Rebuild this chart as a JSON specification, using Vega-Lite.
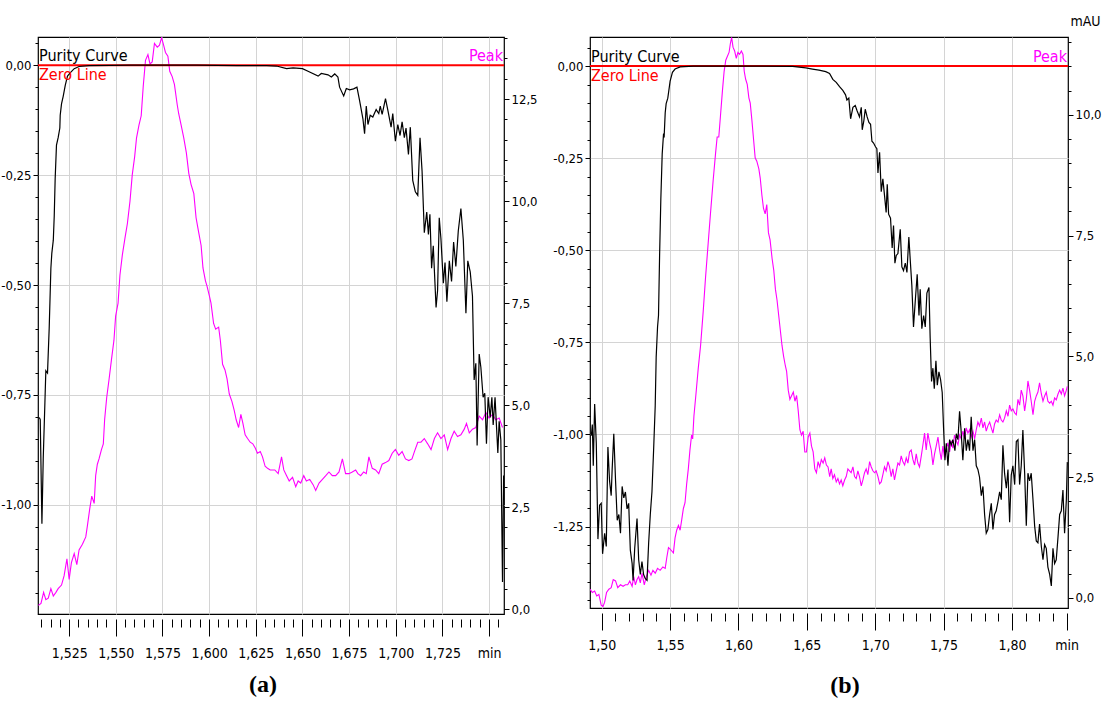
{
  "$schema": "https://vega.github.io/schema/vega-lite/v6.json",
  "background": "white",
  "padding": {"left": 0, "top": 13, "right": 5, "bottom": 5},
  "bounds": "flush",
  "spacing": 86,
  "config": {
    "view": {"stroke": "black", "strokeWidth": 1.2},
    "axis": {"labelFont": "Liberation Sans Narrow, DejaVu Sans Condensed, sans-serif", "labelFontSize": 13, "labelColor": "black", "tickColor": "black", "tickWidth": 1, "tickCount": 500, "domain": false, "gridColor": "#d4d4d4", "gridWidth": 1, "labelOverlap": false, "labelFlush": false, "titleFont": "Liberation Sans Narrow, DejaVu Sans Condensed, sans-serif", "titleFontWeight": "normal", "titleColor": "black"},
    "text": {"font": "Liberation Sans Narrow, DejaVu Sans Condensed, sans-serif"}
  },
  "datasets": {
    "a_pur": [
      {"t":1.5090,"v":-0.801},{"t":1.5095,"v":-0.806},{"t":1.5104,"v":-1.043},{"t":1.5111,"v":-0.895},{"t":1.5120,"v":-0.767},{"t":1.5125,"v":-0.695},{"t":1.5134,"v":-0.700},{"t":1.5143,"v":-0.598},{"t":1.5152,"v":-0.462},{"t":1.5157,"v":-0.428},{"t":1.5165,"v":-0.398},{"t":1.5170,"v":-0.343},{"t":1.5175,"v":-0.258},{"t":1.5182,"v":-0.182},{"t":1.5191,"v":-0.165},{"t":1.5200,"v":-0.143},{"t":1.5202,"v":-0.114},{"t":1.5209,"v":-0.088},{"t":1.5218,"v":-0.071},{"t":1.5229,"v":-0.046},{"t":1.5241,"v":-0.025},{"t":1.5259,"v":-0.016},{"t":1.5277,"v":-0.008},{"t":1.5303,"v":-0.003},{"t":1.5357,"v":-0.001},{"t":1.5579,"v":0},{"t":1.5935,"v":0},{"t":1.6150,"v":-0.001},{"t":1.6308,"v":-0.001},{"t":1.6361,"v":-0.002},{"t":1.6415,"v":-0.008},{"t":1.6450,"v":-0.006},{"t":1.6500,"v":-0.008},{"t":1.6530,"v":-0.014},{"t":1.6584,"v":-0.025},{"t":1.6601,"v":-0.019},{"t":1.6637,"v":-0.022},{"t":1.6655,"v":-0.027},{"t":1.6673,"v":-0.020},{"t":1.6690,"v":-0.027},{"t":1.6699,"v":-0.050},{"t":1.6721,"v":-0.070},{"t":1.6735,"v":-0.053},{"t":1.6753,"v":-0.056},{"t":1.6774,"v":-0.054},{"t":1.6792,"v":-0.050},{"t":1.6806,"v":-0.080},{"t":1.6824,"v":-0.122},{"t":1.6833,"v":-0.156},{"t":1.6842,"v":-0.093},{"t":1.6851,"v":-0.135},{"t":1.6863,"v":-0.114},{"t":1.6877,"v":-0.118},{"t":1.6895,"v":-0.101},{"t":1.6909,"v":-0.110},{"t":1.6917,"v":-0.093},{"t":1.6927,"v":-0.112},{"t":1.6945,"v":-0.076},{"t":1.6957,"v":-0.101},{"t":1.6975,"v":-0.141},{"t":1.6984,"v":-0.110},{"t":1.6998,"v":-0.173},{"t":1.7011,"v":-0.135},{"t":1.7023,"v":-0.160},{"t":1.7034,"v":-0.129},{"t":1.7046,"v":-0.165},{"t":1.7055,"v":-0.143},{"t":1.7068,"v":-0.203},{"t":1.7078,"v":-0.141},{"t":1.7091,"v":-0.262},{"t":1.7105,"v":-0.288},{"t":1.7118,"v":-0.296},{"t":1.7130,"v":-0.165},{"t":1.7141,"v":-0.241},{"t":1.7153,"v":-0.381},{"t":1.7166,"v":-0.334},{"t":1.7175,"v":-0.385},{"t":1.7183,"v":-0.339},{"t":1.7192,"v":-0.462},{"t":1.7201,"v":-0.411},{"t":1.7216,"v":-0.551},{"t":1.7224,"v":-0.513},{"t":1.7233,"v":-0.347},{"t":1.7242,"v":-0.394},{"t":1.7255,"v":-0.496},{"t":1.7264,"v":-0.449},{"t":1.7274,"v":-0.538},{"t":1.7287,"v":-0.445},{"t":1.7299,"v":-0.492},{"t":1.7310,"v":-0.402},{"t":1.7322,"v":-0.458},{"t":1.7335,"v":-0.377},{"t":1.7349,"v":-0.326},{"t":1.7362,"v":-0.398},{"t":1.7376,"v":-0.564},{"t":1.7386,"v":-0.445},{"t":1.7399,"v":-0.470},{"t":1.7411,"v":-0.525},{"t":1.7420,"v":-0.716},{"t":1.7429,"v":-0.678},{"t":1.7436,"v":-0.865},{"t":1.7447,"v":-0.657},{"t":1.7456,"v":-0.687},{"t":1.7468,"v":-0.755},{"t":1.7477,"v":-0.746},{"t":1.7486,"v":-0.861},{"t":1.7495,"v":-0.755},{"t":1.7506,"v":-0.801},{"t":1.7515,"v":-0.755},{"t":1.7522,"v":-0.818},{"t":1.7532,"v":-0.755},{"t":1.7540,"v":-0.823},{"t":1.7547,"v":-0.882},{"t":1.7554,"v":-0.810},{"t":1.7563,"v":-0.852},{"t":1.7572,"v":-1.175},{"t":1.7578,"v":-0.933}
    ],
    "a_peak": [
      {"t":1.5085,"v":0.09},{"t":1.5099,"v":0.14},{"t":1.5113,"v":0.41},{"t":1.5125,"v":0.23},{"t":1.5138,"v":0.27},{"t":1.5152,"v":0.50},{"t":1.5165,"v":0.32},{"t":1.5179,"v":0.41},{"t":1.5191,"v":0.50},{"t":1.5209,"v":0.59},{"t":1.5223,"v":0.82},{"t":1.5238,"v":1.23},{"t":1.5250,"v":0.73},{"t":1.5262,"v":1.14},{"t":1.5277,"v":1.36},{"t":1.5291,"v":1.09},{"t":1.5303,"v":1.45},{"t":1.5321,"v":1.59},{"t":1.5339,"v":1.77},{"t":1.5348,"v":2.05},{"t":1.5360,"v":2.45},{"t":1.5371,"v":2.77},{"t":1.5384,"v":2.59},{"t":1.5392,"v":3.27},{"t":1.5401,"v":3.55},{"t":1.5410,"v":3.68},{"t":1.5423,"v":3.91},{"t":1.5433,"v":4.05},{"t":1.5440,"v":4.64},{"t":1.5451,"v":5.18},{"t":1.5464,"v":5.64},{"t":1.5476,"v":6.09},{"t":1.5490,"v":6.59},{"t":1.5499,"v":7.18},{"t":1.5512,"v":7.50},{"t":1.5522,"v":8.18},{"t":1.5535,"v":8.68},{"t":1.5549,"v":9.09},{"t":1.5562,"v":9.45},{"t":1.5576,"v":10.00},{"t":1.5588,"v":10.64},{"t":1.5601,"v":11.09},{"t":1.5611,"v":11.55},{"t":1.5624,"v":11.86},{"t":1.5636,"v":12.09},{"t":1.5647,"v":12.82},{"t":1.5659,"v":13.45},{"t":1.5672,"v":13.59},{"t":1.5683,"v":13.36},{"t":1.5695,"v":13.41},{"t":1.5707,"v":13.86},{"t":1.5722,"v":13.77},{"t":1.5734,"v":13.82},{"t":1.5745,"v":14.00},{"t":1.5754,"v":13.86},{"t":1.5766,"v":13.64},{"t":1.5779,"v":13.55},{"t":1.5789,"v":13.18},{"t":1.5802,"v":13.05},{"t":1.5814,"v":12.86},{"t":1.5829,"v":12.36},{"t":1.5837,"v":12.14},{"t":1.5850,"v":11.86},{"t":1.5864,"v":11.55},{"t":1.5878,"v":11.18},{"t":1.5891,"v":10.68},{"t":1.5903,"v":10.41},{"t":1.5918,"v":10.18},{"t":1.5930,"v":9.59},{"t":1.5944,"v":9.23},{"t":1.5957,"v":8.91},{"t":1.5967,"v":8.36},{"t":1.5980,"v":8.05},{"t":1.5989,"v":7.91},{"t":1.6001,"v":7.68},{"t":1.6010,"v":7.50},{"t":1.6024,"v":7.00},{"t":1.6035,"v":6.86},{"t":1.6051,"v":6.91},{"t":1.6060,"v":6.59},{"t":1.6072,"v":6.00},{"t":1.6085,"v":5.86},{"t":1.6096,"v":5.64},{"t":1.6108,"v":5.27},{"t":1.6122,"v":5.09},{"t":1.6135,"v":4.86},{"t":1.6145,"v":4.64},{"t":1.6158,"v":4.45},{"t":1.6170,"v":4.77},{"t":1.6181,"v":4.55},{"t":1.6193,"v":4.27},{"t":1.6206,"v":4.18},{"t":1.6220,"v":4.09},{"t":1.6234,"v":4.05},{"t":1.6247,"v":3.95},{"t":1.6259,"v":3.82},{"t":1.6274,"v":3.86},{"t":1.6286,"v":3.73},{"t":1.6300,"v":3.50},{"t":1.6313,"v":3.45},{"t":1.6327,"v":3.41},
      {"t":1.6352,"v":3.41},{"t":1.6370,"v":3.32},{"t":1.6388,"v":3.73},{"t":1.6400,"v":3.41},{"t":1.6415,"v":3.27},{"t":1.6429,"v":3.14},{"t":1.6447,"v":3.23},{"t":1.6464,"v":3.00},{"t":1.6477,"v":3.14},{"t":1.6491,"v":3.09},{"t":1.6507,"v":3.27},{"t":1.6521,"v":3.14},{"t":1.6539,"v":3.18},{"t":1.6557,"v":3.05},{"t":1.6571,"v":2.91},{"t":1.6589,"v":3.09},{"t":1.6607,"v":3.18},{"t":1.6625,"v":3.27},{"t":1.6642,"v":3.36},{"t":1.6660,"v":3.27},{"t":1.6678,"v":3.27},{"t":1.6696,"v":3.36},{"t":1.6714,"v":3.68},{"t":1.6731,"v":3.32},{"t":1.6749,"v":3.32},{"t":1.6767,"v":3.36},{"t":1.6785,"v":3.41},{"t":1.6797,"v":3.32},{"t":1.6812,"v":3.27},{"t":1.6828,"v":3.36},{"t":1.6842,"v":3.32},{"t":1.6856,"v":3.73},{"t":1.6874,"v":3.45},{"t":1.6892,"v":3.41},{"t":1.6909,"v":3.32},{"t":1.6927,"v":3.55},{"t":1.6945,"v":3.59},{"t":1.6963,"v":3.64},{"t":1.6981,"v":3.82},{"t":1.6998,"v":3.91},{"t":1.7016,"v":3.77},{"t":1.7034,"v":3.86},{"t":1.7052,"v":3.68},{"t":1.7070,"v":3.64},{"t":1.7087,"v":3.68},{"t":1.7100,"v":3.86},{"t":1.7118,"v":4.09},{"t":1.7135,"v":4.09},{"t":1.7153,"v":4.18},{"t":1.7171,"v":4.05},{"t":1.7189,"v":3.91},{"t":1.7207,"v":4.18},{"t":1.7224,"v":4.32},{"t":1.7242,"v":4.18},{"t":1.7260,"v":4.27},{"t":1.7278,"v":3.91},{"t":1.7296,"v":4.18},{"t":1.7313,"v":4.36},{"t":1.7331,"v":4.23},{"t":1.7349,"v":4.27},{"t":1.7367,"v":4.41},{"t":1.7379,"v":4.55},{"t":1.7394,"v":4.32},{"t":1.7411,"v":4.41},{"t":1.7429,"v":4.45},{"t":1.7447,"v":4.73},{"t":1.7465,"v":4.64},{"t":1.7483,"v":4.82},{"t":1.7500,"v":4.68},{"t":1.7518,"v":4.77},{"t":1.7536,"v":4.64},{"t":1.7554,"v":4.68},{"t":1.7572,"v":4.45}
    ],
    "b_pur": [
      {"t":1.4924,"v":-1.003},{"t":1.4931,"v":-0.973},{"t":1.4938,"v":-1.085},{"t":1.4948,"v":-0.917},{"t":1.4960,"v":-1.024},{"t":1.4972,"v":-1.284},{"t":1.4984,"v":-1.192},{"t":1.4996,"v":-1.187},{"t":1.5006,"v":-1.324},{"t":1.5021,"v":-1.268},{"t":1.5033,"v":-1.304},{"t":1.5045,"v":-1.034},{"t":1.5057,"v":-1.126},{"t":1.5069,"v":-1.166},{"t":1.5076,"v":-1.095},{"t":1.5088,"v":-0.998},{"t":1.5101,"v":-1.126},{"t":1.5113,"v":-1.233},{"t":1.5125,"v":-1.217},{"t":1.5137,"v":-1.268},{"t":1.5149,"v":-1.141},{"t":1.5161,"v":-1.172},{"t":1.5173,"v":-1.156},{"t":1.5185,"v":-1.202},{"t":1.5197,"v":-1.187},{"t":1.5209,"v":-1.314},{"t":1.5222,"v":-1.350},{"t":1.5229,"v":-1.396},{"t":1.5241,"v":-1.309},{"t":1.5258,"v":-1.228},{"t":1.5270,"v":-1.340},{"t":1.5282,"v":-1.380},{"t":1.5294,"v":-1.345},{"t":1.5306,"v":-1.380},{"t":1.5318,"v":-1.391},{"t":1.5331,"v":-1.396},{"t":1.5343,"v":-1.294},{"t":1.5355,"v":-1.217},{"t":1.5367,"v":-1.156},{"t":1.5379,"v":-1.044},{"t":1.5391,"v":-0.922},{"t":1.5398,"v":-0.790},{"t":1.5408,"v":-0.708},{"t":1.5415,"v":-0.677},{"t":1.5423,"v":-0.514},{"t":1.5432,"v":-0.362},{"t":1.5442,"v":-0.239},{"t":1.5452,"v":-0.183},{"t":1.5456,"v":-0.194},{"t":1.5464,"v":-0.127},{"t":1.5471,"v":-0.102},{"t":1.5483,"v":-0.087},{"t":1.5500,"v":-0.041},{"t":1.5517,"v":-0.017},{"t":1.5536,"v":-0.008},{"t":1.5573,"v":-0.002},{"t":1.5669,"v":0},{"t":1.6105,"v":0},{"t":1.6396,"v":-0.001},{"t":1.6444,"v":-0.003},{"t":1.6493,"v":-0.005},{"t":1.6541,"v":-0.008},{"t":1.6589,"v":-0.011},{"t":1.6638,"v":-0.015},
      {"t":1.6666,"v":-0.020},{"t":1.6690,"v":-0.036},{"t":1.6715,"v":-0.044},{"t":1.6739,"v":-0.056},{"t":1.6763,"v":-0.066},{"t":1.6783,"v":-0.078},{"t":1.6793,"v":-0.092},{"t":1.6807,"v":-0.087},{"t":1.6820,"v":-0.143},{"t":1.6837,"v":-0.112},{"t":1.6854,"v":-0.107},{"t":1.6868,"v":-0.122},{"t":1.6885,"v":-0.138},{"t":1.6898,"v":-0.112},{"t":1.6905,"v":-0.173},{"t":1.6917,"v":-0.148},{"t":1.6927,"v":-0.117},{"t":1.6941,"v":-0.138},{"t":1.6954,"v":-0.153},{"t":1.6966,"v":-0.158},{"t":1.6976,"v":-0.204},{"t":1.6988,"v":-0.209},{"t":1.7002,"v":-0.219},{"t":1.7012,"v":-0.224},{"t":1.7020,"v":-0.290},{"t":1.7032,"v":-0.234},{"t":1.7044,"v":-0.341},{"t":1.7056,"v":-0.306},{"t":1.7068,"v":-0.351},{"t":1.7080,"v":-0.397},{"t":1.7088,"v":-0.321},{"t":1.7098,"v":-0.402},{"t":1.7112,"v":-0.413},{"t":1.7124,"v":-0.494},{"t":1.7134,"v":-0.433},{"t":1.7144,"v":-0.535},{"t":1.7154,"v":-0.514},{"t":1.7166,"v":-0.509},{"t":1.7183,"v":-0.443},{"t":1.7195,"v":-0.545},{"t":1.7207,"v":-0.555},{"t":1.7220,"v":-0.535},{"t":1.7232,"v":-0.560},{"t":1.7246,"v":-0.464},{"t":1.7256,"v":-0.525},{"t":1.7268,"v":-0.596},{"t":1.7280,"v":-0.708},{"t":1.7295,"v":-0.627},{"t":1.7307,"v":-0.565},{"t":1.7320,"v":-0.677},{"t":1.7329,"v":-0.606},{"t":1.7341,"v":-0.713},{"t":1.7354,"v":-0.677},{"t":1.7366,"v":-0.708},{"t":1.7378,"v":-0.616},{"t":1.7393,"v":-0.601},{"t":1.7402,"v":-0.739},{"t":1.7412,"v":-0.856},{"t":1.7422,"v":-0.820},{"t":1.7432,"v":-0.876},{"t":1.7444,"v":-0.800},{"t":1.7454,"v":-0.866},{"t":1.7466,"v":-0.830},{"t":1.7478,"v":-0.851},{"t":1.7490,"v":-0.886},{"t":1.7500,"v":-0.983},{"t":1.7510,"v":-1.070},{"t":1.7520,"v":-1.024},{"t":1.7532,"v":-1.085},{"t":1.7544,"v":-1.014},{"t":1.7556,"v":-1.029},{"t":1.7568,"v":-1.014},{"t":1.7583,"v":-1.044},{"t":1.7593,"v":-0.998},{"t":1.7605,"v":-1.014},{"t":1.7617,"v":-0.937},{"t":1.7627,"v":-0.983},{"t":1.7641,"v":-1.070},{"t":1.7654,"v":-0.983},{"t":1.7666,"v":-1.044},{"t":1.7678,"v":-1.014},{"t":1.7690,"v":-1.044},{"t":1.7702,"v":-0.952},{"t":1.7715,"v":-1.044},{"t":1.7727,"v":-1.014},{"t":1.7739,"v":-1.085},{"t":1.7751,"v":-1.095},{"t":1.7763,"v":-1.116},{"t":1.7776,"v":-1.166},{"t":1.7788,"v":-1.141},{"t":1.7800,"v":-1.217},{"t":1.7812,"v":-1.268},{"t":1.7824,"v":-1.258},{"t":1.7837,"v":-1.217},{"t":1.7849,"v":-1.187},{"t":1.7861,"v":-1.258},{"t":1.7873,"v":-1.217},{"t":1.7885,"v":-1.207},{"t":1.7898,"v":-1.182},{"t":1.7910,"v":-1.156},{"t":1.7922,"v":-1.177},{"t":1.7934,"v":-1.029},{"t":1.7946,"v":-1.105},{"t":1.7959,"v":-1.146},{"t":1.7971,"v":-1.095},{"t":1.7983,"v":-1.238},{"t":1.7995,"v":-1.110},{"t":1.8007,"v":-1.085},{"t":1.8020,"v":-1.136},{"t":1.8032,"v":-1.019},{"t":1.8044,"v":-1.014},{"t":1.8056,"v":-1.136},{"t":1.8068,"v":-1.085},{"t":1.8080,"v":-0.988},{"t":1.8093,"v":-1.105},{"t":1.8105,"v":-1.248},{"t":1.8117,"v":-1.105},{"t":1.8129,"v":-1.126},{"t":1.8141,"v":-1.105},{"t":1.8154,"v":-1.177},{"t":1.8166,"v":-1.248},{"t":1.8178,"v":-1.289},{"t":1.8190,"v":-1.294},{"t":1.8202,"v":-1.243},{"t":1.8215,"v":-1.304},{"t":1.8227,"v":-1.340},{"t":1.8239,"v":-1.299},{"t":1.8251,"v":-1.309},{"t":1.8263,"v":-1.360},{"t":1.8276,"v":-1.380},{"t":1.8288,"v":-1.411},{"t":1.8300,"v":-1.309},{"t":1.8312,"v":-1.350},{"t":1.8324,"v":-1.340},{"t":1.8337,"v":-1.278},{"t":1.8349,"v":-1.217},{"t":1.8361,"v":-1.207},{"t":1.8373,"v":-1.151},{"t":1.8385,"v":-1.268},{"t":1.8398,"v":-1.177},{"t":1.8405,"v":-1.075}
    ],
    "b_peak": [
      {"t":1.4914,"v":0.18},{"t":1.4931,"v":0.11},{"t":1.4948,"v":0.14},{"t":1.4963,"v":0.04},{"t":1.4979,"v":0.07},{"t":1.4996,"v":-0.15},{"t":1.5009,"v":-0.18},{"t":1.5021,"v":-0.09},{"t":1.5035,"v":0.11},{"t":1.5052,"v":0.18},{"t":1.5069,"v":0.21},{"t":1.5084,"v":0.38},{"t":1.5101,"v":0.35},{"t":1.5117,"v":0.21},{"t":1.5137,"v":0.27},{"t":1.5156,"v":0.24},{"t":1.5173,"v":0.27},{"t":1.5190,"v":0.27},{"t":1.5205,"v":0.35},{"t":1.5222,"v":0.24},{"t":1.5234,"v":0.44},{"t":1.5246,"v":0.27},{"t":1.5258,"v":0.38},{"t":1.5270,"v":0.44},{"t":1.5282,"v":0.31},{"t":1.5294,"v":0.51},{"t":1.5311,"v":0.27},{"t":1.5326,"v":0.44},{"t":1.5343,"v":0.57},{"t":1.5360,"v":0.47},{"t":1.5374,"v":0.57},{"t":1.5391,"v":0.51},{"t":1.5408,"v":0.61},{"t":1.5427,"v":0.57},{"t":1.5447,"v":0.64},{"t":1.5464,"v":0.61},{"t":1.5476,"v":0.84},{"t":1.5488,"v":1.04},{"t":1.5500,"v":1.01},{"t":1.5512,"v":0.97},{"t":1.5524,"v":0.93},{"t":1.5536,"v":1.24},{"t":1.5548,"v":1.40},{"t":1.5561,"v":1.50},{"t":1.5573,"v":1.40},{"t":1.5585,"v":1.62},{"t":1.5597,"v":1.85},{"t":1.5609,"v":1.97},{"t":1.5621,"v":2.36},{"t":1.5633,"v":2.67},{"t":1.5645,"v":3.06},{"t":1.5657,"v":3.37},{"t":1.5665,"v":3.29},{"t":1.5674,"v":3.76},{"t":1.5689,"v":4.22},{"t":1.5706,"v":4.76},{"t":1.5723,"v":5.23},{"t":1.5742,"v":5.93},{"t":1.5759,"v":6.63},{"t":1.5778,"v":7.33},{"t":1.5795,"v":7.95},{"t":1.5815,"v":8.65},{"t":1.5832,"v":9.19},{"t":1.5844,"v":9.54},{"t":1.5856,"v":9.54},{"t":1.5868,"v":9.97},{"t":1.5883,"v":10.51},{"t":1.5895,"v":10.90},{"t":1.5907,"v":11.13},{"t":1.5919,"v":11.21},{"t":1.5931,"v":11.29},{"t":1.5941,"v":11.48},{"t":1.5950,"v":11.60},{"t":1.5960,"v":11.40},{"t":1.5972,"v":11.32},{"t":1.5984,"v":11.17},{"t":1.5996,"v":11.29},{"t":1.6008,"v":11.25},{"t":1.6021,"v":11.32},{"t":1.6033,"v":11.25},{"t":1.6042,"v":10.90},{"t":1.6052,"v":10.74},{"t":1.6064,"v":10.63},{"t":1.6076,"v":10.35},{"t":1.6086,"v":10.24},{"t":1.6098,"v":9.89},{"t":1.6110,"v":9.50},{"t":1.6122,"v":9.11},{"t":1.6134,"v":9.04},{"t":1.6149,"v":8.88},{"t":1.6159,"v":8.69},{"t":1.6171,"v":8.34},{"t":1.6183,"v":8.06},{"t":1.6195,"v":7.95},{"t":1.6207,"v":8.14},{"t":1.6219,"v":7.56},{"t":1.6231,"v":7.41},{"t":1.6246,"v":7.02},{"t":1.6258,"v":6.78},{"t":1.6270,"v":6.39},{"t":1.6282,"v":6.16},{"t":1.6294,"v":5.85},{"t":1.6306,"v":5.54},{"t":1.6318,"v":5.23},{"t":1.6330,"v":5.00},{"t":1.6343,"v":4.80},{"t":1.6352,"v":4.69},{"t":1.6364,"v":4.30},{"t":1.6376,"v":4.11},{"t":1.6389,"v":4.19},{"t":1.6401,"v":4.26},{"t":1.6413,"v":4.07},{"t":1.6425,"v":4.19},{"t":1.6437,"v":3.87},{"t":1.6449,"v":3.48},{"t":1.6461,"v":3.37},{"t":1.6473,"v":3.45},{"t":1.6485,"v":3.02},{"t":1.6497,"v":3.02},{"t":1.6510,"v":3.33},{"t":1.6522,"v":3.41},{"t":1.6534,"v":3.14},{"t":1.6546,"v":3.02},{"t":1.6558,"v":2.67},{"t":1.6570,"v":2.59},{"t":1.6582,"v":2.82},{"t":1.6594,"v":2.71},{"t":1.6606,"v":2.86},{"t":1.6619,"v":2.79},{"t":1.6631,"v":2.90},{"t":1.6643,"v":2.75},{"t":1.6655,"v":2.71},{"t":1.6667,"v":2.51},
      {"t":1.6678,"v":2.67},{"t":1.6690,"v":2.47},{"t":1.6702,"v":2.55},{"t":1.6715,"v":2.40},{"t":1.6727,"v":2.47},{"t":1.6739,"v":2.36},{"t":1.6751,"v":2.44},{"t":1.6763,"v":2.32},{"t":1.6776,"v":2.44},{"t":1.6788,"v":2.51},{"t":1.6800,"v":2.67},{"t":1.6812,"v":2.63},{"t":1.6824,"v":2.59},{"t":1.6837,"v":2.71},{"t":1.6849,"v":2.51},{"t":1.6861,"v":2.47},{"t":1.6873,"v":2.63},{"t":1.6885,"v":2.51},{"t":1.6898,"v":2.32},{"t":1.6910,"v":2.44},{"t":1.6922,"v":2.59},{"t":1.6934,"v":2.67},{"t":1.6946,"v":2.55},{"t":1.6959,"v":2.82},{"t":1.6971,"v":2.71},{"t":1.6983,"v":2.63},{"t":1.6995,"v":2.59},{"t":1.7007,"v":2.63},{"t":1.7020,"v":2.51},{"t":1.7032,"v":2.36},{"t":1.7044,"v":2.40},{"t":1.7056,"v":2.55},{"t":1.7068,"v":2.71},{"t":1.7080,"v":2.63},{"t":1.7093,"v":2.82},{"t":1.7105,"v":2.71},{"t":1.7117,"v":2.51},{"t":1.7129,"v":2.67},{"t":1.7141,"v":2.44},{"t":1.7154,"v":2.63},{"t":1.7166,"v":2.79},{"t":1.7178,"v":2.75},{"t":1.7190,"v":2.94},{"t":1.7202,"v":2.82},{"t":1.7215,"v":2.75},{"t":1.7227,"v":2.90},{"t":1.7239,"v":2.79},{"t":1.7251,"v":3.02},{"t":1.7263,"v":3.06},{"t":1.7276,"v":2.86},{"t":1.7288,"v":2.75},{"t":1.7300,"v":2.98},{"t":1.7312,"v":2.79},{"t":1.7324,"v":2.71},{"t":1.7337,"v":2.94},{"t":1.7349,"v":3.17},{"t":1.7361,"v":3.41},{"t":1.7373,"v":3.06},{"t":1.7385,"v":3.41},{"t":1.7398,"v":3.21},{"t":1.7410,"v":3.06},{"t":1.7422,"v":2.75},{"t":1.7434,"v":2.98},{"t":1.7446,"v":3.14},{"t":1.7459,"v":3.33},{"t":1.7471,"v":3.06},{"t":1.7483,"v":2.86},{"t":1.7495,"v":3.14},{"t":1.7507,"v":2.90},{"t":1.7520,"v":3.10},{"t":1.7532,"v":3.21},{"t":1.7544,"v":3.02},{"t":1.7556,"v":3.25},{"t":1.7568,"v":3.10},{"t":1.7580,"v":3.37},{"t":1.7593,"v":3.25},{"t":1.7605,"v":3.17},{"t":1.7617,"v":3.37},{"t":1.7629,"v":3.29},{"t":1.7641,"v":3.45},{"t":1.7654,"v":3.29},{"t":1.7666,"v":3.52},{"t":1.7678,"v":3.41},{"t":1.7690,"v":3.48},{"t":1.7702,"v":3.33},{"t":1.7715,"v":3.45},{"t":1.7727,"v":3.29},{"t":1.7739,"v":3.48},{"t":1.7751,"v":3.64},{"t":1.7763,"v":3.56},{"t":1.7776,"v":3.72},{"t":1.7788,"v":3.52},{"t":1.7800,"v":3.64},{"t":1.7812,"v":3.45},{"t":1.7824,"v":3.56},{"t":1.7837,"v":3.64},{"t":1.7849,"v":3.52},{"t":1.7861,"v":3.41},{"t":1.7873,"v":3.60},{"t":1.7885,"v":3.68},{"t":1.7898,"v":3.64},{"t":1.7910,"v":3.79},{"t":1.7922,"v":3.68},{"t":1.7934,"v":3.64},{"t":1.7946,"v":3.72},{"t":1.7959,"v":3.87},{"t":1.7971,"v":3.76},{"t":1.7983,"v":3.99},{"t":1.7995,"v":3.87},{"t":1.8007,"v":3.91},{"t":1.8020,"v":3.83},{"t":1.8032,"v":3.79},{"t":1.8044,"v":4.11},{"t":1.8056,"v":3.99},{"t":1.8068,"v":4.30},{"t":1.8080,"v":4.18},{"t":1.8093,"v":3.87},{"t":1.8105,"v":4.11},{"t":1.8117,"v":4.49},{"t":1.8129,"v":4.30},{"t":1.8141,"v":4.07},{"t":1.8154,"v":3.79},{"t":1.8166,"v":4.07},{"t":1.8178,"v":4.18},{"t":1.8190,"v":4.26},{"t":1.8202,"v":4.45},{"t":1.8215,"v":4.22},{"t":1.8227,"v":4.07},{"t":1.8239,"v":4.18},{"t":1.8251,"v":4.26},{"t":1.8263,"v":4.07},{"t":1.8276,"v":4.03},{"t":1.8288,"v":4.07},{"t":1.8300,"v":3.99},{"t":1.8312,"v":4.14},{"t":1.8324,"v":4.10},{"t":1.8337,"v":4.22},{"t":1.8349,"v":4.30},{"t":1.8361,"v":4.22},{"t":1.8373,"v":4.34},{"t":1.8385,"v":4.18},{"t":1.8398,"v":4.30},{"t":1.8405,"v":4.38}
    ]
  },
  "hconcat": [
    {
      "width": 466,
      "height": 577,
      "title": {"text": "(a)", "orient": "bottom", "font": "Liberation Serif", "fontSize": 24, "fontWeight": "bold", "color": "black", "offset": 13, "dx": -8},
      "layer": [
        {
          "data": {"name": "a_peak"},
          "mark": {"type": "line", "color": "#ff00ff", "strokeWidth": 1.1, "clip": true},
          "encoding": {
            "x": {"field": "t", "type": "quantitative", "scale": {"domain": [1.5083, 1.758], "nice": false, "zero": false}},
            "y": {"field": "v", "type": "quantitative", "scale": {"domain": [-0.12, 14.02], "nice": false, "zero": false},
              "axis": {"orient": "right", "title": null, "grid": false, "tickCount": 500, "values": [0,0.5,1,1.5,2,2.5,3,3.5,4,4.5,5,5.5,6,6.5,7,7.5,8,8.5,9,9.5,10,10.5,11,11.5,12,12.5,13,13.5,14],
                "labelExpr": "abs(datum.value/2.5-round(datum.value/2.5))<0.01 ? replace(format(datum.value,'.1f'),'.',',') : ''",
                "tickSize": {"condition": {"test": "abs(datum.value/2.5-round(datum.value/2.5))<0.01", "value": 5}, "value": 3},
                "labelPadding": 2}}
          }
        },
        {
          "layer": [
            {
              "data": {"name": "a_pur"},
              "mark": {"type": "line", "color": "black", "strokeWidth": 1.2, "strokeOpacity": 0, "clip": true},
              "encoding": {
                "x": {"field": "t", "type": "quantitative", "scale": {"domain": [1.5083, 1.758], "nice": false, "zero": false},
                  "axis": {"title": null, "offset": 5, "tickCount": 500, "labelFontSize": 14, "values": [1.51,1.515,1.52,1.525,1.53,1.535,1.54,1.545,1.55,1.555,1.56,1.565,1.57,1.575,1.58,1.585,1.59,1.595,1.6,1.605,1.61,1.615,1.62,1.625,1.63,1.635,1.64,1.645,1.65,1.655,1.66,1.665,1.67,1.675,1.68,1.685,1.69,1.695,1.7,1.705,1.71,1.715,1.72,1.725,1.73,1.735,1.74,1.745,1.75,1.755],
                    "labelExpr": "abs(datum.value-1.75)<0.0001 ? 'min' : (abs(datum.value*40-round(datum.value*40))<0.01 ? replace(format(datum.value,'.3f'),'.',',') : '')",
                    "tickSize": {"condition": {"test": "abs(datum.value*40-round(datum.value*40))<0.01", "value": 17}, "value": 8},
                    "gridOpacity": {"condition": {"test": "abs(datum.value*40-round(datum.value*40))<0.01", "value": 1}, "value": 0},
                    "grid": true, "labelPadding": 10}},
                "y": {"field": "v", "type": "quantitative", "scale": {"domain": [-1.248, 0.064], "nice": false, "zero": false},
                  "axis": {"orient": "left", "title": null, "tickCount": 500, "values": [-1.2,-1.15,-1.1,-1.05,-1,-0.95,-0.9,-0.85,-0.8,-0.75,-0.7,-0.65,-0.6,-0.55,-0.5,-0.45,-0.4,-0.35,-0.3,-0.25,-0.2,-0.15,-0.1,-0.05,0,0.05],
                    "labelExpr": "abs(datum.value*4-round(datum.value*4))<0.01 ? replace(replace(format(datum.value,'.2f'),'.',','),'\u2212','-') : ''",
                    "tickSize": {"condition": {"test": "abs(datum.value*4-round(datum.value*4))<0.01", "value": 5}, "value": 3},
                    "gridOpacity": {"condition": {"test": "abs(datum.value*4-round(datum.value*4))<0.01 && abs(datum.value)>0.01", "value": 1}, "value": 0},
                    "grid": true, "labelPadding": 2}}
              }
            },
            {
              "data": {"values": [{"z": 0}]},
              "mark": {"type": "rule", "color": "#ff0000", "strokeWidth": 2},
              "encoding": {"y": {"field": "z", "type": "quantitative", "scale": {"domain": [-1.248, 0.064], "nice": false, "zero": false}}}
            },
            {
              "data": {"name": "a_pur"},
              "mark": {"type": "line", "color": "black", "strokeWidth": 1.2, "clip": true},
              "encoding": {
                "x": {"field": "t", "type": "quantitative", "scale": {"domain": [1.5083, 1.758], "nice": false, "zero": false}},
                "y": {"field": "v", "type": "quantitative", "scale": {"domain": [-1.248, 0.064], "nice": false, "zero": false}}
              }
            },
            {
              "data": {"values": [{"k": 1}]},
              "mark": {"type": "text", "text": "Purity Curve", "align": "left", "baseline": "alphabetic", "fontSize": 16, "color": "black", "dx": 1, "dy": -4},
              "encoding": {
                "x": {"datum": 1.5083, "type": "quantitative", "scale": {"domain": [1.5083, 1.758], "nice": false, "zero": false}},
                "y": {"datum": 0, "type": "quantitative", "scale": {"domain": [-1.248, 0.064], "nice": false, "zero": false}}
              }
            },
            {
              "data": {"values": [{"k": 1}]},
              "mark": {"type": "text", "text": "Zero Line", "align": "left", "baseline": "top", "fontSize": 16, "color": "#ff0000", "dx": 1, "dy": 2},
              "encoding": {
                "x": {"datum": 1.5083, "type": "quantitative", "scale": {"domain": [1.5083, 1.758], "nice": false, "zero": false}},
                "y": {"datum": 0, "type": "quantitative", "scale": {"domain": [-1.248, 0.064], "nice": false, "zero": false}}
              }
            },
            {
              "data": {"values": [{"k": 1}]},
              "mark": {"type": "text", "text": "Peak", "align": "right", "baseline": "alphabetic", "fontSize": 16, "color": "#ff00ff", "dx": -1, "dy": -4},
              "encoding": {
                "x": {"datum": 1.758, "type": "quantitative", "scale": {"domain": [1.5083, 1.758], "nice": false, "zero": false}},
                "y": {"datum": 0, "type": "quantitative", "scale": {"domain": [-1.248, 0.064], "nice": false, "zero": false}}
              }
            }
          ]
        }
      ],
      "resolve": {"scale": {"y": "independent"}}
    },
    {
      "width": 478,
      "height": 571,
      "title": {"text": "(b)", "orient": "bottom", "font": "Liberation Serif", "fontSize": 24, "fontWeight": "bold", "color": "black", "offset": 22, "dx": 16},
      "layer": [
        {
          "data": {"name": "b_peak"},
          "mark": {"type": "line", "color": "#ff00ff", "strokeWidth": 1.1, "clip": true},
          "encoding": {
            "x": {"field": "t", "type": "quantitative", "scale": {"domain": [1.4914, 1.841], "nice": false, "zero": false}},
            "y": {"field": "v", "type": "quantitative", "scale": {"domain": [-0.21, 11.61], "nice": false, "zero": false},
              "axis": {"orient": "right", "title": "mAU", "titleAngle": 0, "titleAlign": "center", "titleBaseline": "top", "titleX": 17, "titleY": -23, "titleFontSize": 14, "grid": false, "tickCount": 500,
                "values": [0,0.5,1,1.5,2,2.5,3,3.5,4,4.5,5,5.5,6,6.5,7,7.5,8,8.5,9,9.5,10,10.5,11,11.5],
                "labelExpr": "abs(datum.value/2.5-round(datum.value/2.5))<0.01 ? replace(format(datum.value,'.1f'),'.',',') : ''",
                "tickSize": {"condition": {"test": "abs(datum.value/2.5-round(datum.value/2.5))<0.01", "value": 5}, "value": 3},
                "labelPadding": 2}}
          }
        },
        {
          "layer": [
            {
              "data": {"name": "b_pur"},
              "mark": {"type": "line", "color": "black", "strokeWidth": 1.2, "strokeOpacity": 0, "clip": true},
              "encoding": {
                "x": {"field": "t", "type": "quantitative", "scale": {"domain": [1.4914, 1.841], "nice": false, "zero": false},
                  "axis": {"title": null, "offset": 5, "tickCount": 500, "labelFontSize": 14, "values": [1.5,1.51,1.52,1.53,1.54,1.55,1.56,1.57,1.58,1.59,1.6,1.61,1.62,1.63,1.64,1.65,1.66,1.67,1.68,1.69,1.7,1.71,1.72,1.73,1.74,1.75,1.76,1.77,1.78,1.79,1.8,1.81,1.82,1.83,1.84],
                    "labelExpr": "abs(datum.value-1.84)<0.0001 ? 'min' : (abs(datum.value*20-round(datum.value*20))<0.01 ? replace(format(datum.value,'.2f'),'.',',') : '')",
                    "tickSize": {"condition": {"test": "abs(datum.value*20-round(datum.value*20))<0.01 || abs(datum.value-1.84)<0.0001", "value": 17}, "value": 8},
                    "gridOpacity": {"condition": {"test": "abs(datum.value*20-round(datum.value*20))<0.01", "value": 1}, "value": 0},
                    "grid": true, "labelPadding": 8}},
                "y": {"field": "v", "type": "quantitative", "scale": {"domain": [-1.471, 0.079], "nice": false, "zero": false},
                  "axis": {"orient": "left", "title": null, "tickCount": 500, "values": [-1.45,-1.4,-1.35,-1.3,-1.25,-1.2,-1.15,-1.1,-1.05,-1,-0.95,-0.9,-0.85,-0.8,-0.75,-0.7,-0.65,-0.6,-0.55,-0.5,-0.45,-0.4,-0.35,-0.3,-0.25,-0.2,-0.15,-0.1,-0.05,0,0.05],
                    "labelExpr": "abs(datum.value*4-round(datum.value*4))<0.01 ? replace(replace(format(datum.value,'.2f'),'.',','),'\u2212','-') : ''",
                    "tickSize": {"condition": {"test": "abs(datum.value*4-round(datum.value*4))<0.01", "value": 5}, "value": 3},
                    "gridOpacity": {"condition": {"test": "abs(datum.value*4-round(datum.value*4))<0.01 && abs(datum.value)>0.01", "value": 1}, "value": 0},
                    "grid": true, "labelPadding": 2}}
              }
            },
            {
              "data": {"values": [{"z": 0}]},
              "mark": {"type": "rule", "color": "#ff0000", "strokeWidth": 2},
              "encoding": {"y": {"field": "z", "type": "quantitative", "scale": {"domain": [-1.471, 0.079], "nice": false, "zero": false}}}
            },
            {
              "data": {"name": "b_pur"},
              "mark": {"type": "line", "color": "black", "strokeWidth": 1.2, "clip": true},
              "encoding": {
                "x": {"field": "t", "type": "quantitative", "scale": {"domain": [1.4914, 1.841], "nice": false, "zero": false}},
                "y": {"field": "v", "type": "quantitative", "scale": {"domain": [-1.471, 0.079], "nice": false, "zero": false}}
              }
            },
            {
              "data": {"values": [{"k": 1}]},
              "mark": {"type": "text", "text": "Purity Curve", "align": "left", "baseline": "alphabetic", "fontSize": 16, "color": "black", "dx": 1, "dy": -4},
              "encoding": {
                "x": {"datum": 1.4914, "type": "quantitative", "scale": {"domain": [1.4914, 1.841], "nice": false, "zero": false}},
                "y": {"datum": 0, "type": "quantitative", "scale": {"domain": [-1.471, 0.079], "nice": false, "zero": false}}
              }
            },
            {
              "data": {"values": [{"k": 1}]},
              "mark": {"type": "text", "text": "Zero Line", "align": "left", "baseline": "top", "fontSize": 16, "color": "#ff0000", "dx": 1, "dy": 2},
              "encoding": {
                "x": {"datum": 1.4914, "type": "quantitative", "scale": {"domain": [1.4914, 1.841], "nice": false, "zero": false}},
                "y": {"datum": 0, "type": "quantitative", "scale": {"domain": [-1.471, 0.079], "nice": false, "zero": false}}
              }
            },
            {
              "data": {"values": [{"k": 1}]},
              "mark": {"type": "text", "text": "Peak", "align": "right", "baseline": "alphabetic", "fontSize": 16, "color": "#ff00ff", "dx": -1, "dy": -4},
              "encoding": {
                "x": {"datum": 1.841, "type": "quantitative", "scale": {"domain": [1.4914, 1.841], "nice": false, "zero": false}},
                "y": {"datum": 0, "type": "quantitative", "scale": {"domain": [-1.471, 0.079], "nice": false, "zero": false}}
              }
            }
          ]
        }
      ],
      "resolve": {"scale": {"y": "independent"}}
    }
  ]
}
